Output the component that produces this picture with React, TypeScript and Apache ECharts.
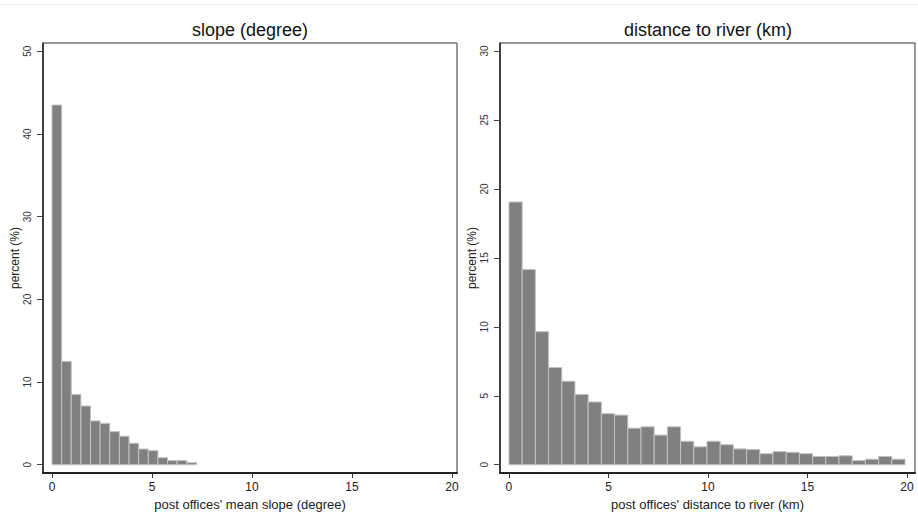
import React, { useEffect, useRef } from "react";
import * as echarts from "echarts";

// ---- data ----
const slopeTitle = "slope (degree)";
const riverTitle = "distance to river (km)";
const slopeXName = "post offices' mean slope (degree)";
const riverXName = "post offices' distance to river (km)";
const yName = "percent (%)";

const slopeBinWidth = 0.4815; // degrees
const slopePercent = [43.5, 12.5, 8.5, 7.1, 5.3, 5.0, 4.0, 3.45, 2.6, 1.9, 1.7, 0.85, 0.5, 0.5, 0.25];

const riverBinWidth = 0.6633; // km
const riverPercent = [
  19.05, 14.15, 9.65, 7.05, 6.05, 5.1, 4.55, 3.7, 3.6, 2.65,
  2.75, 2.15, 2.75, 1.7, 1.3, 1.7, 1.45, 1.15, 1.1, 0.8,
  0.95, 0.9, 0.8, 0.6, 0.6, 0.65, 0.3, 0.4, 0.6, 0.4,
];

const xTicks = [0, 5, 10, 15, 20];
const slopeYTicks = [0, 10, 20, 30, 40, 50];
const riverYTicks = [0, 5, 10, 15, 20, 25, 30];

const FONT = "'Liberation Sans', Arial, sans-serif";

function toBins(values: number[], width: number) {
  return values.map((v, i) => [i * width, (i + 1) * width, v]);
}

function renderBar(params: any, api: any) {
  const x0 = api.value(0);
  const x1 = api.value(1);
  const h = api.value(2);
  const p0 = api.coord([x0, h]);
  const p1 = api.coord([x1, 0]);
  return {
    type: "rect",
    shape: { x: p0[0], y: p0[1], width: p1[0] - p0[0], height: p1[1] - p0[1] },
    style: { fill: "#808080", stroke: "#c2c2c2", lineWidth: 1 },
  };
}

function xAxisOf(gridIndex: number, min: number, max: number, name: string) {
  return {
    type: "value",
    gridIndex,
    min,
    max,
    name,
    nameLocation: "middle",
    nameGap: 23,
    nameTextStyle: { fontFamily: FONT, fontSize: 13, color: "#222" },
    splitLine: { show: false },
    axisLine: { show: true, onZero: false, lineStyle: { color: "#222", width: 2 } },
    axisTick: { show: true, customValues: xTicks, length: 5, lineStyle: { color: "#333" } },
    axisLabel: {
      customValues: xTicks,
      margin: 8,
      fontFamily: FONT,
      fontSize: 12,
      color: "#222",
    },
  };
}

function yAxisOf(gridIndex: number, min: number, max: number, ticks: number[]) {
  return {
    type: "value",
    gridIndex,
    min,
    max,
    name: yName,
    nameLocation: "middle",
    nameGap: 20,
    nameTextStyle: { fontFamily: FONT, fontSize: 12, color: "#222" },
    splitLine: { show: false },
    axisLine: { show: true, onZero: false, lineStyle: { color: "#222", width: 1.5 } },
    axisTick: { show: true, customValues: ticks, length: 6, lineStyle: { color: "#444" } },
    axisLabel: {
      customValues: ticks,
      rotate: 90,
      margin: 11,
      fontFamily: FONT,
      fontSize: 10,
      color: "#333",
    },
  };
}

export default function App() {
  const ref = useRef<HTMLDivElement>(null);
  useEffect(() => {
    if (!ref.current) return;
    const chart = echarts.init(ref.current, null, { renderer: "svg" });
    chart.setOption({
      animation: false,
      backgroundColor: "#ffffff",
      textStyle: { fontFamily: FONT },
      title: [
        {
          text: slopeTitle,
          left: 250,
          top: 21,
          padding: 0,
          textAlign: "center",
          textStyle: { fontFamily: FONT, fontSize: 18, fontWeight: "normal", color: "#111" },
        },
        {
          text: riverTitle,
          left: 708,
          top: 21,
          padding: 0,
          textAlign: "center",
          textStyle: { fontFamily: FONT, fontSize: 18, fontWeight: "normal", color: "#111" },
        },
      ],
      graphic: [
        {
          type: "line",
          shape: { x1: 0, y1: 4.5, x2: 918, y2: 4.5 },
          style: { stroke: "#e4ebf0", lineWidth: 1 },
          silent: true,
        },
      ],
      grid: [
        { left: 43, top: 43, width: 414, height: 430, show: true, borderColor: "#333", borderWidth: 1, containLabel: false },
        { left: 500, top: 43, width: 415, height: 430, show: true, borderColor: "#333", borderWidth: 1, containLabel: false },
      ],
      xAxis: [
        xAxisOf(0, -0.45, 20.25, slopeXName),
        xAxisOf(1, -0.45, 20.4, riverXName),
      ],
      yAxis: [
        yAxisOf(0, -1, 51, slopeYTicks),
        yAxisOf(1, -0.6, 30.58, riverYTicks),
      ],
      series: [
        {
          type: "custom",
          xAxisIndex: 0,
          yAxisIndex: 0,
          renderItem: renderBar,
          encode: { x: [0, 1], y: 2 },
          data: toBins(slopePercent, slopeBinWidth),
        },
        {
          type: "custom",
          xAxisIndex: 1,
          yAxisIndex: 1,
          renderItem: renderBar,
          encode: { x: [0, 1], y: 2 },
          data: toBins(riverPercent, riverBinWidth),
        },
      ],
    });
    return () => chart.dispose();
  }, []);
  return (
    <div
      ref={ref}
      style={{ position: "fixed", left: 0, top: 0, width: 918, height: 519 }}
    />
  );
}
